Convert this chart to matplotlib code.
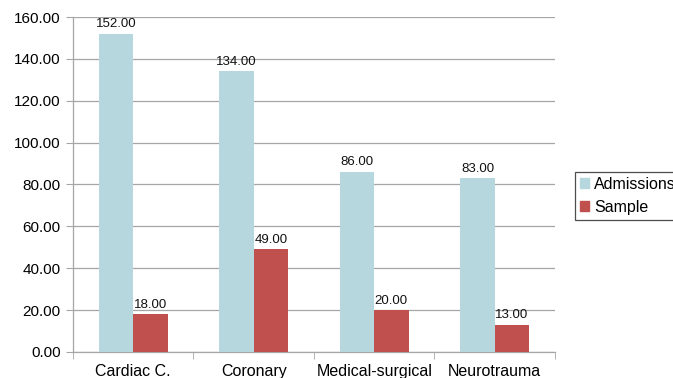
import matplotlib
matplotlib.use("Agg")
import matplotlib.pyplot as plt
from matplotlib.ticker import FixedLocator, NullFormatter
from matplotlib.patches import Patch
import numpy as np

plt.rcParams['font.family'] = ['Liberation Sans', 'DejaVu Sans']

categories = ["Cardiac C.", "Coronary", "Medical-surgical", "Neurotrauma"]
admissions = [152.0, 134.0, 86.0, 83.0]
sample = [18.0, 49.0, 20.0, 13.0]
yticks = [0, 20, 40, 60, 80, 100, 120, 140, 160]

c_adm = "#B7D7DE"
c_smp = "#C0504D"
grid_c = "#A6A6A6"

fig = plt.figure(figsize=(6.73, 3.78), dpi=100)
ax = fig.add_axes([0.1085, 0.069, 0.716, 0.886])

x = np.arange(len(categories))
w = 0.285
b1 = ax.bar(x - w / 2, admissions, w, color=c_adm, zorder=3)
b2 = ax.bar(x + w / 2, sample, w, color=c_smp, zorder=3)

for bars, vals in ((b1, admissions), (b2, sample)):
    for r, v in zip(bars, vals):
        ax.annotate(f"{v:.2f}", (r.get_x() + r.get_width() / 2, v),
                    xytext=(0, 2.5), textcoords="offset points",
                    ha="center", va="bottom", fontsize=9.5, color="#111111", zorder=4)

ax.set_xlim(-0.5, len(categories) - 0.5)
ax.set_ylim(0, 160)
ax.set_yticks(yticks)
ax.set_yticklabels([f"{t:.2f}" for t in yticks], fontsize=11)
ax.yaxis.grid(True, color=grid_c, linewidth=0.9, zorder=0)

ax.set_xticks(x)
ax.set_xticklabels(categories, fontsize=11.5)
ax.tick_params(axis="x", which="major", length=0, pad=9)
ax.xaxis.set_minor_locator(FixedLocator(np.arange(-0.5, len(categories), 1.0)))
ax.xaxis.set_minor_formatter(NullFormatter())
ax.tick_params(axis="x", which="minor", length=5, color=grid_c, direction="out")
ax.tick_params(axis="y", length=5, color=grid_c, direction="out", pad=4)

for s in ("top", "right"):
    ax.spines[s].set_visible(False)
for s in ("left", "bottom"):
    ax.spines[s].set_color(grid_c)
    ax.spines[s].set_linewidth(0.9)

handles = [Patch(color=c_adm, label="Admissions"), Patch(color=c_smp, label="Sample")]
leg = fig.legend(handles=handles, loc="upper left", bbox_to_anchor=(0.855, 0.545),
                 fontsize=11.5, frameon=True, fancybox=False, edgecolor="#222222",
                 handlelength=0.55, handleheight=0.55, handletextpad=0.3,
                 borderpad=0.3, labelspacing=0.5, borderaxespad=0)
leg.get_frame().set_linewidth(0.9)

fig.savefig("out.png", dpi=100)
